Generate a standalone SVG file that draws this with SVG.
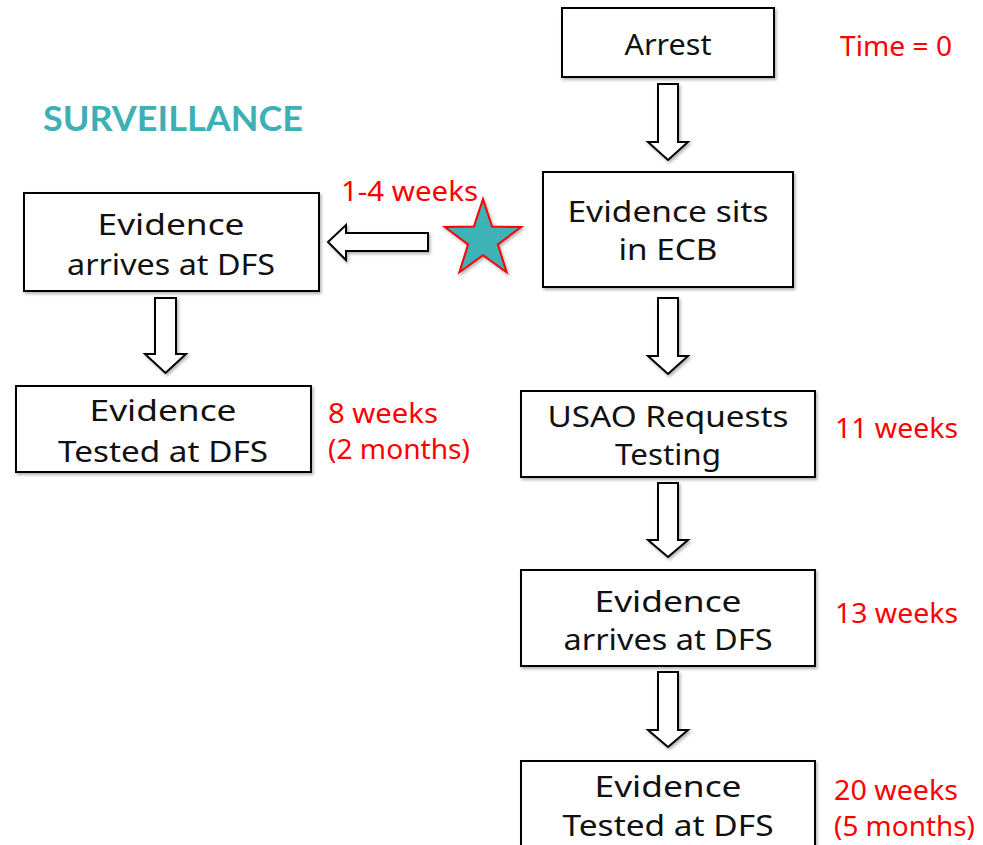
<svg xmlns="http://www.w3.org/2000/svg" width="983" height="845" viewBox="0 0 983 845">
<defs>
<filter id="sh" x="-10%" y="-10%" width="130%" height="140%">
<feDropShadow dx="1.5" dy="2" stdDeviation="1.5" flood-color="#000" flood-opacity="0.3"/>
</filter>
<style>
.box{fill:#fff;stroke:#000;stroke-width:2}
.t{font-family:"Noto Sans","DejaVu Sans",sans-serif;font-size:29px;fill:#111;text-anchor:middle}
.r{font-family:"Noto Sans","DejaVu Sans",sans-serif;font-size:27px;fill:#ff0000}
.arr{fill:#fff;stroke:#000;stroke-width:2;stroke-linejoin:miter}
</style>
</defs>
<rect width="983" height="845" fill="#fff"/>
<text x="43" y="131" font-family="Lato,'Open Sans',sans-serif" font-weight="bold" font-size="34" fill="#3DB0B5" textLength="260" lengthAdjust="spacingAndGlyphs">SURVEILLANCE</text>

<g id="connectors">
<path class="arr" filter="url(#sh)" d="M658,84 H678 V142 H688 L668,160 L648,142 H658 Z"/>
<path class="arr" filter="url(#sh)" d="M658,298 H678 V356 H688 L668,374 L648,356 H658 Z"/>
<path class="arr" filter="url(#sh)" d="M658,483 H678 V540 H688 L668,557 L648,540 H658 Z"/>
<path class="arr" filter="url(#sh)" d="M658,672 H678 V730 H688 L668,747 L648,730 H658 Z"/>
<path class="arr" filter="url(#sh)" d="M155,298 H176 V354 H186 L165.5,373 L145,354 H155 Z"/>
<path class="arr" filter="url(#sh)" d="M428,233 V251 H346 V260 L328,242 L346,225 V233 Z"/>
</g>

<g id="star">
<polygon filter="url(#sh)" fill="#3DB3B8" stroke="#ff0000" stroke-width="2" points="483,199 492.1,226.6 521.2,227.0 497.9,244.4 506.6,272.2 483,255.2 459.4,272.2 468.1,244.4 444.8,227.0 473.9,226.6"/>
</g>

<g id="arrest">
<rect class="box" filter="url(#sh)" x="562" y="8" width="212" height="69"/>
<text class="t" x="668" y="55" textLength="87" lengthAdjust="spacingAndGlyphs">Arrest</text>
</g>
<g id="ecb">
<rect class="box" filter="url(#sh)" x="543" y="172" width="250" height="115"/>
<text class="t" x="668" y="222" textLength="201" lengthAdjust="spacingAndGlyphs">Evidence sits</text>
<text class="t" x="668" y="260" textLength="99" lengthAdjust="spacingAndGlyphs">in ECB</text>
</g>
<g id="usao">
<rect class="box" filter="url(#sh)" x="521" y="391" width="294" height="86"/>
<text class="t" x="668" y="427" textLength="241" lengthAdjust="spacingAndGlyphs">USAO Requests</text>
<text class="t" x="668" y="465" textLength="106" lengthAdjust="spacingAndGlyphs">Testing</text>
</g>
<g id="arrives-right">
<rect class="box" filter="url(#sh)" x="521" y="570" width="294" height="96"/>
<text class="t" x="668" y="612" textLength="147" lengthAdjust="spacingAndGlyphs">Evidence</text>
<text class="t" x="668" y="650" textLength="209" lengthAdjust="spacingAndGlyphs">arrives at DFS</text>
</g>
<g id="tested-right">
<rect class="box" filter="url(#sh)" x="521" y="761" width="294" height="100"/>
<text class="t" x="668" y="797" textLength="147" lengthAdjust="spacingAndGlyphs">Evidence</text>
<text class="t" x="668" y="836" textLength="211" lengthAdjust="spacingAndGlyphs">Tested at DFS</text>
</g>
<g id="arrives-left">
<rect class="box" filter="url(#sh)" x="24" y="193" width="295" height="98"/>
<text class="t" x="171" y="235" textLength="147" lengthAdjust="spacingAndGlyphs">Evidence</text>
<text class="t" x="171" y="275" textLength="208" lengthAdjust="spacingAndGlyphs">arrives at DFS</text>
</g>
<g id="tested-left">
<rect class="box" filter="url(#sh)" x="16" y="386" width="295" height="86"/>
<text class="t" x="163" y="421" textLength="147" lengthAdjust="spacingAndGlyphs">Evidence</text>
<text class="t" x="163" y="462" textLength="210" lengthAdjust="spacingAndGlyphs">Tested at DFS</text>
</g>

<g id="labels">
<text class="r" x="840" y="56" textLength="112" lengthAdjust="spacingAndGlyphs">Time = 0</text>
<text class="r" x="341" y="201" textLength="137" lengthAdjust="spacingAndGlyphs">1-4 weeks</text>
<text class="r" x="328" y="423" textLength="110" lengthAdjust="spacingAndGlyphs">8 weeks</text>
<text class="r" x="328" y="459" textLength="142" lengthAdjust="spacingAndGlyphs">(2 months)</text>
<text class="r" x="835" y="438" textLength="123" lengthAdjust="spacingAndGlyphs">11 weeks</text>
<text class="r" x="835" y="623" textLength="123" lengthAdjust="spacingAndGlyphs">13 weeks</text>
<text class="r" x="834" y="800" textLength="124" lengthAdjust="spacingAndGlyphs">20 weeks</text>
<text class="r" x="834" y="836" textLength="141" lengthAdjust="spacingAndGlyphs">(5 months)</text>
</g>
</svg>
